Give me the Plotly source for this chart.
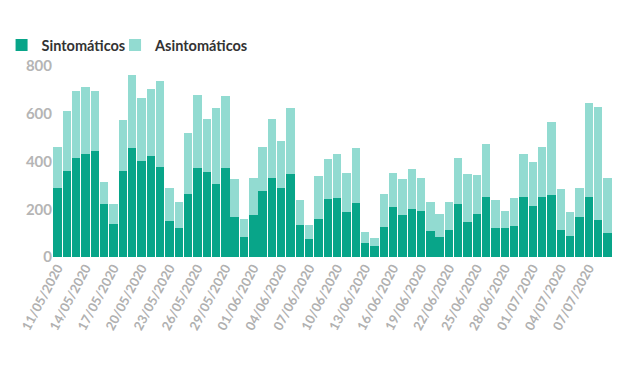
import plotly.graph_objects as go
import datetime as dt

start = dt.date(2020, 5, 11)
dates = [(start + dt.timedelta(days=i)).strftime("%d/%m/%Y") for i in range(60)]

totales = [459, 610, 695, 712, 694, 314, 222, 573, 762, 667,
           703, 738, 290, 231, 518, 677, 578, 624, 675, 328,
           158, 332, 460, 577, 485, 625, 240, 136, 338, 411,
           432, 352, 456, 104, 78, 263, 352, 325, 368, 332,
           232, 179, 232, 414, 346, 343, 473, 239, 193, 246,
           430, 400, 461, 566, 286, 189, 289, 645, 628, 332]
sintomaticos = [288, 361, 416, 432, 446, 220, 140, 361, 457, 403,
                424, 378, 149, 121, 265, 374, 357, 304, 371, 168,
                82, 176, 275, 332, 288, 349, 136, 74, 160, 242,
                249, 190, 228, 58, 46, 126, 208, 178, 200, 192,
                108, 82, 115, 224, 146, 179, 250, 120, 120, 131,
                250, 213, 252, 259, 115, 89, 168, 252, 154, 99]
asintomaticos = [t - s for t, s in zip(totales, sintomaticos)]
tick_labels = dates[::3]

fig = go.Figure()
fig.add_trace(go.Bar(x=dates, y=sintomaticos, name="Sintomáticos", legend="legend",
                     marker=dict(color="#08a589", line=dict(width=0))))
fig.add_trace(go.Bar(x=dates, y=asintomaticos, name="Asintomáticos", legend="legend2",
                     marker=dict(color="#92dbd1", line=dict(width=0))))

legend_font = dict(size=14.5, color="#333333", family="Lato", weight="bold")
fig.update_layout(
    barmode="stack",
    bargap=0.1,
    width=612, height=360,
    margin=dict(l=45, r=8, t=58, b=111, autoexpand=False),
    paper_bgcolor="white", plot_bgcolor="white",
    font=dict(family="Lato", color="#aaaaaa"),
    legend=dict(orientation="h", x=-0.092, y=1.193, xanchor="left", yanchor="top",
                font=legend_font, itemwidth=30, bgcolor="rgba(0,0,0,0)"),
    legend2=dict(orientation="h", x=0.111, y=1.193, xanchor="left", yanchor="top",
                 font=legend_font, itemwidth=30, bgcolor="rgba(0,0,0,0)"),
    xaxis=dict(type="category", tickmode="array", tickvals=tick_labels, ticktext=tick_labels,
               range=[-0.5, 59.5], automargin=False,
               tickangle=-62, tickfont=dict(size=13, color="#b0b0b0", family="Lato", weight="bold"),
               showgrid=False, showline=False, ticks=""),
    yaxis=dict(range=[0, 800], tickvals=[0, 200, 400, 600, 800], showgrid=False,
               zeroline=False, automargin=False,
               tickfont=dict(size=15, color="#b5b5b5", family="Lato", weight="bold"),
               ticks="", ticklen=0),
    showlegend=True,
)
fig.write_html("out.html")
